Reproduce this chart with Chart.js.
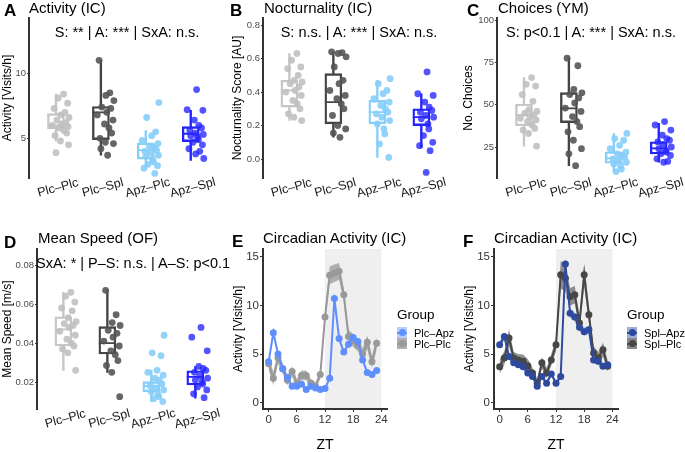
<!DOCTYPE html>
<html><head><meta charset="utf-8">
<script src="https://cdn.jsdelivr.net/npm/chart.js@4.4.0/dist/chart.umd.min.js"></script>
<style>
html,body{margin:0;padding:0;background:#fff;width:685px;height:452px;overflow:hidden;}
#wrap{position:relative;width:685px;height:452px;overflow:hidden;font-family:"Liberation Sans",Arial,Helvetica,sans-serif;}
canvas{position:absolute;}
.t{position:absolute;white-space:nowrap;color:#000;line-height:1;}
.let{font-weight:bold;font-size:17px;}
.ttl{font-size:15px;}
.st{font-size:14.5px;}
.lg{font-size:13.5px;}
.ll{font-size:11px;}
.key{position:absolute;width:10px;height:11px;}
.key i{position:absolute;left:0;right:0;top:4.5px;height:2px;}
.key b{position:absolute;left:1.5px;top:2px;width:7px;height:7px;border-radius:50%;}
</style></head>
<body><div id="wrap">
<canvas id="cA" width="228" height="225" style="left:0;top:0"></canvas>
<canvas id="cB" width="230" height="225" style="left:228px;top:0"></canvas>
<canvas id="cC" width="240" height="225" style="left:456px;top:0"></canvas>
<canvas id="cD" width="232" height="227" style="left:0;top:225px"></canvas>
<canvas id="cE" width="230" height="227" style="left:228px;top:225px"></canvas>
<canvas id="cF" width="230" height="227" style="left:459px;top:225px"></canvas>

<div class="t let" style="left:4px;top:2px">A</div>
<div class="t ttl" style="left:29px;top:0px">Activity (IC)</div>
<div class="t st" style="left:127px;top:25px;transform:translateX(-50%)">S: ** | A: *** | SxA: n.s.</div>

<div class="t let" style="left:230px;top:2px">B</div>
<div class="t ttl" style="left:264px;top:0px">Nocturnality (IC)</div>
<div class="t st" style="left:359px;top:25px;transform:translateX(-50%)">S: n.s. | A: *** | SxA: n.s.</div>

<div class="t let" style="left:467px;top:2px">C</div>
<div class="t ttl" style="left:498px;top:0px">Choices (YM)</div>
<div class="t st" style="left:591px;top:25px;transform:translateX(-50%)">S: p&lt;0.1 | A: *** | SxA: n.s.</div>

<div class="t let" style="left:4px;top:234px">D</div>
<div class="t ttl" style="left:38px;top:230px">Mean Speed (OF)</div>
<div class="t st" style="left:36px;top:256px">SxA: * | P–S: n.s. | A–S: p&lt;0.1</div>

<div class="t let" style="left:232px;top:233px">E</div>
<div class="t ttl" style="left:263px;top:230px">Circadian Activity (IC)</div>
<div class="t lg" style="left:397px;top:308px">Group</div>
<div class="key" style="left:397px;top:327px;background:rgba(95,143,255,0.45)"><i style="background:#5f8fff"></i><b style="background:#5f8fff"></b></div>
<div class="key" style="left:397px;top:338px;background:rgba(110,110,110,0.55)"><i style="background:#999"></i><b style="background:#999"></b></div>
<div class="t ll" style="left:414px;top:328px">Plc–Apz</div>
<div class="t ll" style="left:414px;top:339px">Plc–Plc</div>

<div class="t let" style="left:463px;top:233px">F</div>
<div class="t ttl" style="left:494px;top:230px">Circadian Activity (IC)</div>
<div class="t lg" style="left:627px;top:308px">Group</div>
<div class="key" style="left:627px;top:327px;background:rgba(60,90,180,0.5)"><i style="background:#2e4a9e"></i><b style="background:#2e4a9e"></b></div>
<div class="key" style="left:627px;top:338px;background:rgba(60,60,60,0.6)"><i style="background:#474747"></i><b style="background:#474747"></b></div>
<div class="t ll" style="left:644px;top:328px">Spl–Apz</div>
<div class="t ll" style="left:644px;top:339px">Spl–Plc</div>
</div>
<script>
// ---------- data ----------
const categories = ['Plc–Plc','Plc–Spl','Apz–Plc','Apz–Spl'];

// Panel A: Activity (IC) [Visits/h]
const activityPts = [
  [8.4, 8.1, 7.7, 7.3, 7.0, 6.8, 6.6, 6.4, 6.2, 6.1, 6.0, 5.9, 5.8, 5.6, 5.4, 5.2, 4.8, 4.5, 3.9],
  [11.0, 8.5, 8.3, 7.9, 7.4, 7.3, 7.0, 6.8, 6.4, 6.1, 5.8, 5.4, 5.0, 4.7, 4.6, 4.2, 3.7],
  [7.75, 6.6, 5.5, 5.2, 4.85, 4.6, 4.4, 4.3, 4.1, 4.0, 3.9, 3.7, 3.6, 3.4, 3.2, 3.0, 2.9, 2.7, 2.3],
  [8.75, 7.2, 7.15, 6.4, 6.0, 5.8, 5.6, 5.4, 5.3, 5.2, 5.1, 4.9, 4.7, 4.5, 4.2, 4.0, 3.8, 3.45]
];
const activityBox = [ // [lower whisker, q1, median, q3, upper whisker]
  [4.8, 5.75, 6.0, 6.9, 8.4],
  [3.7, 4.9, 7.0, 7.45, 11.0],
  [2.7, 3.4, 4.1, 4.65, 5.6],
  [3.3, 4.75, 5.35, 5.9, 7.15]
];
const activityTicks = [5, 10];

// Panel B: Nocturnality score [AU]
const noctPts = [
  [0.63, 0.59, 0.55, 0.54, 0.5, 0.47, 0.46, 0.45, 0.43, 0.41, 0.40, 0.38, 0.35, 0.33, 0.30, 0.27, 0.25, 0.23],
  [0.64, 0.635, 0.63, 0.61, 0.55, 0.47, 0.45, 0.41, 0.38, 0.36, 0.33, 0.30, 0.26, 0.20, 0.18, 0.155, 0.13],
  [0.48, 0.45, 0.41, 0.39, 0.36, 0.34, 0.32, 0.30, 0.28, 0.27, 0.25, 0.23, 0.21, 0.18, 0.15, 0.09, 0.01],
  [0.52, 0.39, 0.38, 0.34, 0.31, 0.29, 0.28, 0.26, 0.25, 0.24, 0.21, 0.18, 0.14, 0.10, 0.08, 0.05, -0.08]
];
const noctBox = [
  [0.23, 0.31, 0.41, 0.47, 0.63],
  [0.13, 0.21, 0.34, 0.51, 0.64],
  [0.01, 0.21, 0.28, 0.35, 0.47],
  [0.07, 0.20, 0.25, 0.30, 0.39]
];
const noctTicks = [0, 0.2, 0.4, 0.6, 0.8];

// Panel C: No. choices (YM)
const choicePts = [
  [66, 62, 61, 56, 52, 47, 46, 45, 44, 43, 42, 41, 40, 38, 36, 35, 33, 25.5],
  [77.5, 73, 59, 57, 56, 54, 51, 48, 46, 43, 40, 37, 34, 29, 24, 21, 14],
  [33, 30, 29, 26, 24, 22, 21, 20, 19, 18, 17, 16, 15, 14, 12, 10.5],
  [40, 38, 35, 32, 30, 29, 28, 26.5, 25, 24, 23, 22, 21, 20, 18, 16.5, 16]
];
const choiceBox = [
  [25.5, 37.6, 43.9, 50.4, 66],
  [14, 39.4, 47.8, 57.1, 77.5],
  [10.5, 15.4, 18.3, 22.2, 33],
  [16, 20.9, 24.2, 28.1, 39]
];
const choiceTicks = [25, 50, 75, 100];

// Panel D: Mean speed (OF) [m/s]
const speedPts = [
  [0.066, 0.064, 0.061, 0.058, 0.0565, 0.053, 0.051, 0.050, 0.049, 0.048, 0.046, 0.044, 0.042, 0.040, 0.0385, 0.037, 0.035, 0.026],
  [0.067, 0.0545, 0.0505, 0.049, 0.0465, 0.045, 0.043, 0.041, 0.0385, 0.036, 0.034, 0.031, 0.0285, 0.025, 0.0125],
  [0.044, 0.035, 0.0335, 0.026, 0.025, 0.0235, 0.022, 0.021, 0.019, 0.018, 0.017, 0.016, 0.015, 0.0135, 0.0125, 0.0115, 0.010],
  [0.048, 0.043, 0.036, 0.028, 0.027, 0.026, 0.025, 0.023, 0.022, 0.021, 0.020, 0.019, 0.0175, 0.016, 0.014, 0.012]
];
const speedBox = [
  [0.026, 0.0385, 0.047, 0.0535, 0.066],
  [0.025, 0.0344, 0.040, 0.0484, 0.067],
  [0.0099, 0.015, 0.018, 0.0202, 0.026],
  [0.0117, 0.0185, 0.0227, 0.0258, 0.0279]
];
const speedTicks = [0.02, 0.04, 0.06, 0.08];

// horizontal jitter of the individual animals (category units)
const jitter = [0.17, 0.05, 0.26, -0.04, 0.2, 0.11, 0.29, 0.02, 0.22, 0.13, -0.08, 0.27, 0.08, 0.18, 0.24, -0.02, 0.1, 0.28, 0.0, 0.15];

// Panels E/F: circadian activity, hourly means and SEM
const zt = [0,1,2,3,4,5,6,7,8,9,10,11,12,13,14,15,16,17,18,19,20,21,22,23];
const ztTicks = [0, 6, 12, 18, 24];
const circTicks = [0, 5, 10, 15];
const darkPhase = [12, 24];
const plcApzMean = [4.2, 7.2, 5.0, 3.5, 2.6, 1.7, 1.7, 1.9, 1.35, 1.7, 1.5, 1.35, 1.45, 2.5, 10.7, 6.6, 5.2, 6.0, 6.7, 6.3, 4.4, 3.1, 2.9, 3.3];
const plcApzSem  = [0.3, 0.5, 0.35, 0.3, 0.25, 0.2, 0.2, 0.2, 0.15, 0.2, 0.15, 0.15, 0.15, 0.25, 0.7, 0.35, 0.3, 0.3, 0.35, 0.3, 0.3, 0.25, 0.25, 0.25];
const plcPlcMean = [4.0, 2.5, 4.6, 3.5, 2.3, 3.2, 2.0, 2.8, 2.8, 2.0, 1.7, 2.9, 8.8, 13.1, 13.3, 13.5, 11.1, 6.8, 6.4, 5.9, 5.0, 6.2, 4.2, 6.1];
const plcPlcSem  = [0.7, 0.7, 0.6, 0.55, 0.5, 0.55, 0.45, 0.5, 0.5, 0.45, 0.4, 0.45, 0.6, 0.9, 0.9, 0.85, 0.7, 0.7, 0.65, 0.6, 0.6, 0.7, 0.6, 0.65];
const splApzMean = [5.95, 6.8, 4.75, 4.1, 3.9, 3.7, 3.05, 2.7, 1.7, 2.7, 2.0, 2.95, 2.0, 2.7, 14.25, 9.2, 8.8, 7.75, 7.3, 7.5, 4.4, 4.25, 3.75, 3.9];
const splApzSem  = [0.35, 0.4, 0.35, 0.3, 0.3, 0.3, 0.3, 0.25, 0.2, 0.25, 0.2, 0.25, 0.2, 0.25, 0.6, 0.45, 0.45, 0.4, 0.4, 0.4, 0.35, 0.35, 0.3, 0.3];
const splPlcMean = [3.7, 4.6, 6.65, 4.6, 4.4, 4.25, 3.8, 3.05, 2.0, 4.1, 3.05, 4.4, 5.95, 13.15, 12.8, 10.9, 11.1, 8.2, 13.15, 9.05, 5.1, 4.6, 5.45, 3.75];
const splPlcSem  = [0.75, 0.7, 0.9, 0.6, 0.6, 0.7, 0.7, 0.55, 0.45, 0.6, 0.55, 0.6, 0.7, 1.4, 1.4, 0.9, 0.9, 0.7, 1.2, 0.8, 0.7, 0.6, 0.7, 0.6];

// ---------- styles ----------
const pointColors = ['rgba(192,192,192,0.9)', 'rgba(85,85,85,0.9)', 'rgba(135,206,250,0.9)', 'rgba(40,40,255,0.8)'];
const boxColors = ['#c6c6c6', '#444444', '#87cefa', '#2222ff'];

Chart.defaults.font.family = '"Liberation Sans", Arial, Helvetica, sans-serif';
Chart.defaults.color = '#333';

const rotLabels = {
  id: 'rotLabels',
  afterDraw(chart, args, opts) {
    if (!opts.labels) return;
    const ctx = chart.ctx, xs = chart.scales.x;
    ctx.save();
    ctx.font = '12.5px "Liberation Sans", Arial, sans-serif';
    ctx.fillStyle = '#1a1a1a';
    ctx.textAlign = 'center';
    ctx.textBaseline = 'middle';
    opts.labels.forEach((lab, i) => {
      const px = xs.getPixelForValue(i + 1);
      ctx.save();
      ctx.translate(px + opts.dx, chart.chartArea.bottom + opts.dy);
      ctx.rotate(-15 * Math.PI / 180);
      ctx.fillText(lab, 0, 0);
      ctx.restore();
    });
    ctx.restore();
  }
};

const shade = {
  id: 'shade',
  beforeDraw(chart, args, opts) {
    if (!opts.range) return;
    const ctx = chart.ctx, a = chart.chartArea, x = chart.scales.x;
    const x0 = x.getPixelForValue(opts.range[0]), x1 = x.getPixelForValue(opts.range[1]);
    ctx.save();
    ctx.fillStyle = opts.color;
    ctx.fillRect(x0, a.top, x1 - x0, a.bottom - a.top);
    ctx.restore();
  }
};

function boxPanel(id, pts, box, y, L) {
  const cv = document.getElementById(id);
  const W = cv.width, H = cv.height;
  const datasets = [];
  pts.forEach((arr, g) => datasets.push({
    type: 'scatter',
    data: arr.map((v, j) => ({x: g + 1 + jitter[(j + g * 3) % jitter.length], y: v})),
    pointRadius: 3.4, pointHoverRadius: 3.4, backgroundColor: pointColors[g], borderWidth: 0, order: 0
  }));
  box.forEach((b, g) => {
    const c = boxColors[g];
    datasets.push({type: 'bar', data: [{x: g + 1, y: [b[1], b[3]]}], backgroundColor: 'rgba(255,255,255,0)',
      borderColor: c, borderWidth: 1.7, borderSkipped: false, barThickness: 17, grouped: false, order: 3});
    datasets.push({type: 'bar', data: [{x: g + 1, y: [b[0], b[1]]}], backgroundColor: c, borderWidth: 0,
      barThickness: 1.7, grouped: false, order: 3});
    datasets.push({type: 'bar', data: [{x: g + 1, y: [b[3], b[4]]}], backgroundColor: c, borderWidth: 0,
      barThickness: 1.7, grouped: false, order: 3});
    datasets.push({type: 'scatter', data: [{x: g + 1, y: b[2]}], pointStyle: 'line', pointRadius: 8.5,
      borderColor: c, borderWidth: 1.8, order: 2});
  });
  new Chart(cv, {
    type: 'scatter',
    data: {datasets},
    plugins: [rotLabels],
    options: {
      responsive: false, animation: false, events: [],
      layout: {padding: {left: 0, top: L.top, right: W - L.right, bottom: 0}},
      plugins: {legend: {display: false}, tooltip: {enabled: false}, rotLabels: {labels: categories, dx: 2, dy: 10}},
      scales: {
        x: {type: 'linear', min: 0.4, max: 4.6, offset: false, grid: {display: false, offset: false}, border: {display: false},
            ticks: {display: false}, afterFit: s => { s.height = H - L.bottom; }},
        y: {type: 'linear', min: y.min, max: y.max,
            afterBuildTicks: s => { s.ticks = y.ticks.map(v => ({value: v})); },
            ticks: {font: {size: 9.5}, color: '#4d4d4d', padding: 1, callback: y.fmt},
            grid: {drawOnChartArea: false, tickLength: 2, tickColor: '#333'},
            border: {display: true, color: '#333', width: 2},
            title: {display: true, text: y.title, font: {size: 12}, color: '#000', padding: {top: y.tpad, bottom: 0}},
            afterFit: s => { s.width = L.left; }}
      }
    }
  });
}

function circPanel(id, series, tpad) {
  const cv = document.getElementById(id);
  const W = cv.width, H = cv.height;
  const L = {left: 35, right: 159, top: 24, bottom: 184};
  const datasets = [];
  series.forEach((s, k) => {
    datasets.push({type: 'line', data: zt.map((t, i) => ({x: t, y: s.mean[i] + s.sem[i]})), borderWidth: 0,
      borderColor: 'rgba(0,0,0,0)', pointRadius: 0, fill: '+1', backgroundColor: s.ribbon, order: 10});
    datasets.push({type: 'line', data: zt.map((t, i) => ({x: t, y: s.mean[i] - s.sem[i]})), borderWidth: 0,
      borderColor: 'rgba(0,0,0,0)', pointRadius: 0, fill: false, order: 10});
  });
  series.forEach((s, k) => {
    datasets.push({type: 'line', data: zt.map((t, i) => ({x: t, y: s.mean[i]})), borderColor: s.line, borderWidth: 2,
      pointRadius: 3.5, pointBackgroundColor: s.line, pointBorderWidth: 0, tension: 0, fill: false, order: 5 - k});
  });
  new Chart(cv, {
    type: 'scatter',
    data: {datasets},
    plugins: [shade],
    options: {
      responsive: false, animation: false, events: [],
      layout: {padding: {left: 0, top: L.top, right: W - L.right, bottom: 0}},
      plugins: {legend: {display: false}, tooltip: {enabled: false}, shade: {range: darkPhase, color: '#efefef'},
                filler: {propagate: false}},
      scales: {
        x: {type: 'linear', min: -1.2, max: 25.2,
            afterBuildTicks: s => { s.ticks = ztTicks.map(v => ({value: v})); },
            ticks: {font: {size: 11.5}, color: '#333', padding: 1},
            grid: {drawOnChartArea: false, tickLength: 3, tickColor: '#333'},
            border: {display: true, color: '#333', width: 2},
            title: {display: true, text: 'ZT', font: {size: 14, lineHeight: 1}, color: '#000', padding: {top: 0, bottom: 0}},
            afterFit: s => { s.height = H - L.bottom; }},
        y: {type: 'linear', min: -0.65, max: 15.8,
            afterBuildTicks: s => { s.ticks = circTicks.map(v => ({value: v})); },
            ticks: {font: {size: 11.5}, color: '#333', padding: 1},
            grid: {drawOnChartArea: false, tickLength: 3, tickColor: '#333'},
            border: {display: true, color: '#333', width: 2},
            title: {display: true, text: 'Activity [Visits/h]', font: {size: 12}, color: '#000', padding: {top: tpad, bottom: 0}},
            afterFit: s => { s.width = L.left; }}
      }
    }
  });
}

boxPanel('cA', activityPts, activityBox,
  {min: 1.95, max: 14.25, ticks: activityTicks, fmt: v => String(v), title: 'Activity [Visits/h]', tpad: 0},
  {left: 29, right: 222, top: 18, bottom: 178});
boxPanel('cB', noctPts, noctBox,
  {min: -0.113, max: 0.842, ticks: noctTicks, fmt: v => v.toFixed(1), title: 'Nocturnality Score [AU]', tpad: 2},
  {left: 35, right: 228, top: 18, bottom: 178});
boxPanel('cC', choicePts, choiceBox,
  {min: 6.7, max: 101.2, ticks: choiceTicks, fmt: v => String(v), title: 'No. Choices', tpad: 5},
  {left: 41, right: 234, top: 18, bottom: 178});
boxPanel('cD', speedPts, speedBox,
  {min: 0.0062, max: 0.0882, ticks: speedTicks, fmt: v => v.toFixed(2), title: 'Mean Speed [m/s]', tpad: 0},
  {left: 37, right: 227, top: 24, bottom: 184});

circPanel('cE', [
  {mean: plcPlcMean, sem: plcPlcSem, line: '#999999', ribbon: 'rgba(110,110,110,0.5)'},
  {mean: plcApzMean, sem: plcApzSem, line: '#5f8fff', ribbon: 'rgba(95,143,255,0.4)'}
], 3);
circPanel('cF', [
  {mean: splPlcMean, sem: splPlcSem, line: '#474747', ribbon: 'rgba(60,60,60,0.55)'},
  {mean: splApzMean, sem: splApzSem, line: '#2e4a9e', ribbon: 'rgba(60,90,180,0.5)'}
], 3);
</script>
</body></html>
